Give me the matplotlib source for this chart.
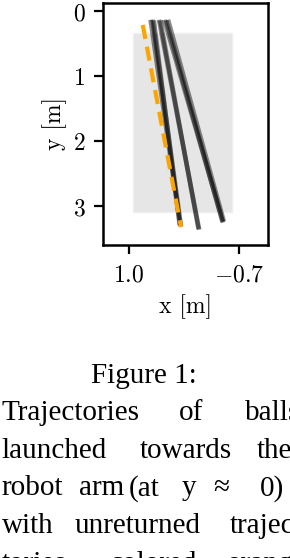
import matplotlib
matplotlib.use("Agg")
import matplotlib.pyplot as plt
from matplotlib.patches import Rectangle

plt.rcParams['mathtext.fontset'] = 'cm'

# ball trajectories (x start, x end, y start, y end) in metres
black_x = [[0.66, 0.20], [0.63, 0.19], [0.61, 0.21],
           [0.53, -0.09], [0.51, -0.08],
           [0.45, -0.46], [0.42, -0.45], [0.39, -0.47]]
black_y = [[0.14, 3.31], [0.14, 3.32], [0.15, 3.30],
           [0.14, 3.37], [0.15, 3.36],
           [0.14, 3.26], [0.15, 3.25], [0.14, 3.24]]
orange_x = [0.78, 0.19]
orange_y = [0.22, 3.33]

# table outline
table_x0, table_y0 = -0.6, 0.35
table_w, table_l = 1.525, 2.74

x_ticks = [1.0, -0.7]
x_labels = ["$1.0$", "$-0.7$"]
y_ticks = [0, 1, 2, 3]
y_labels = ["$0$", "$1$", "$2$", "$3$"]

caption_title = "Figure 1:"
caption_lines = [
    [("Trajectories", 1.7), ("of", 179), ("balls", 245)],
    [("launched", 1.7), ("towards", 140), ("the", 257)],
    [("robot", 1.7), ("arm", 79), ("(at", 129), ("y", 182), ("\u2248", 213), ("0)", 260)],
    [("with", 1.7), ("unreturned", 75), ("trajec-", 230)],
    [("tories", 1.7), ("colored", 110), ("orange", 227)],
]

W, H = 290, 558
fig = plt.figure(figsize=(W / 100, H / 100), dpi=100)
ax = fig.add_axes([102.7 / W, 1 - 245 / H, 165 / W, 242 / H])

ax.add_patch(Rectangle((table_x0, table_y0), table_w, table_l,
                       facecolor='#e6e6e6', edgecolor='#efefef', lw=1.0, zorder=1))

for xs, ys in zip(black_x, black_y):
    ax.plot(xs, ys, color='black', lw=3.3, alpha=0.45, solid_capstyle='butt', zorder=2)
ax.plot(orange_x, orange_y, color='#fba600', lw=3.0, linestyle=(0, (3.4, 1.9)), zorder=3)

ax.set_xlim(1.398, -1.147)
ax.set_ylim(3.605, -0.118)

ax.set_xticks(x_ticks)
ax.set_xticklabels(x_labels, fontsize=17)
ax.set_yticks(y_ticks)
ax.set_yticklabels(y_labels, fontsize=17)
ax.tick_params(length=6.5, width=1.6, pad=6)
for s in ax.spines.values():
    s.set_linewidth(1.8)

ax.set_xlabel("x [m]", family='cmr10', fontsize=17, labelpad=6)
ax.set_ylabel("y [m]", family='cmr10', fontsize=17, labelpad=4)

# caption below the plot
fig.text(144 / W, 1 - 382.7 / H, caption_title, family='Liberation Serif',
         fontsize=21, ha='center', va='baseline')
for i, line in enumerate(caption_lines):
    base = 420 + 37.7 * i
    for word, xp in line:
        fig.text(xp / W, 1 - base / H, word, family='Liberation Serif',
                 fontsize=21, ha='left', va='baseline')

fig.savefig("out.png", dpi=100)
